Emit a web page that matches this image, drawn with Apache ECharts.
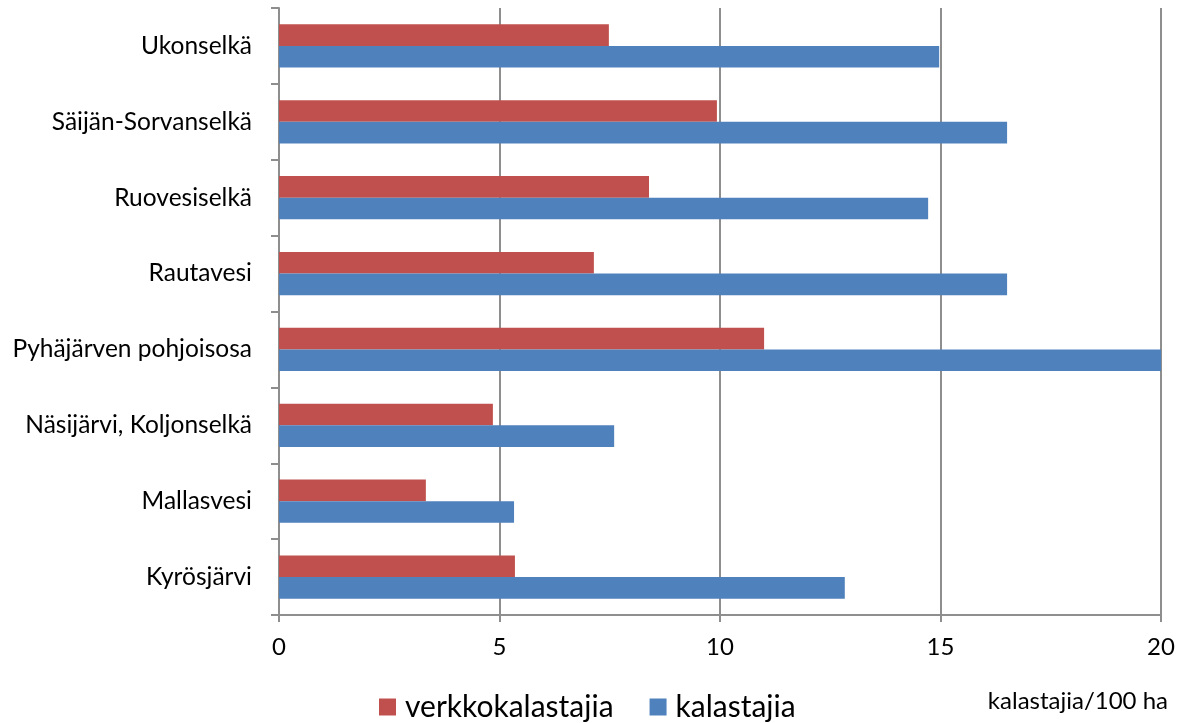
<!DOCTYPE html>
<html>
<head>
<meta charset="utf-8">
<title>Kalastajatiheys</title>
<script src="https://cdn.jsdelivr.net/npm/echarts@6/dist/echarts.min.js"></script>
<style>
  html, body { margin: 0; padding: 0; background: #fff; }
  #chart { width: 1181px; height: 723px; }
</style>
</head>
<body>
<div id="chart"></div>
<script>
// Lakes, listed from the bottom of the chart to the top
const lakes = [
  'Kyrösjärvi',
  'Mallasvesi',
  'Näsijärvi, Koljonselkä',
  'Pyhäjärven pohjoisosa',
  'Rautavesi',
  'Ruovesiselkä',
  'Säijän-Sorvanselkä',
  'Ukonselkä'
];

// Fishers per 100 ha
const netFishers = [5.35, 3.33, 4.85, 11.0, 7.14, 8.39, 9.93, 7.48];
const allFishers = [12.83, 5.33, 7.6, 20.0, 16.51, 14.72, 16.51, 14.97];

const seriesNames = ['verkkokalastajia', 'kalastajia'];
const unitLabel = 'kalastajia/100 ha';
const xTicks = { min: 0, max: 20, interval: 5 };

const FONT = 'Lato, "Open Sans", sans-serif';
const AXIS_GREY = '#8e8e8e';

const chart = echarts.init(document.getElementById('chart'), null, { renderer: 'canvas' });

chart.setOption({
  animation: false,
  color: ['#C0504D', '#4F81BD'],
  textStyle: { fontFamily: FONT, color: '#000' },
  title: {
    text: unitLabel,
    right: 13,
    top: 689,
    padding: 0,
    textStyle: { fontFamily: FONT, fontSize: 24, fontWeight: 'normal', color: '#000' }
  },
  legend: {
    data: seriesNames,
    top: 692,
    left: 379,
    padding: 0,
    itemWidth: 17,
    itemHeight: 17,
    itemGap: 36,
    icon: 'rect',
    textStyle: { fontFamily: FONT, fontSize: 30, color: '#000', padding: [0, 0, 0, 4] }
  },
  grid: {
    left: 279,
    right: 20,
    top: 8,
    bottom: 108,
    containLabel: false
  },
  xAxis: {
    type: 'value',
    min: xTicks.min,
    max: xTicks.max,
    interval: xTicks.interval,
    axisLine: { show: true, lineStyle: { color: AXIS_GREY, width: 2 } },
    axisTick: { show: true, length: 7, lineStyle: { color: AXIS_GREY, width: 2 } },
    axisLabel: { margin: 20, fontSize: 24, color: '#000', fontFamily: FONT },
    splitLine: { show: true, lineStyle: { color: AXIS_GREY, width: 2 } }
  },
  yAxis: {
    type: 'category',
    data: lakes,
    axisLine: { show: true, lineStyle: { color: AXIS_GREY, width: 2 } },
    axisTick: { show: true, length: 8, lineStyle: { color: AXIS_GREY, width: 2 } },
    axisLabel: { margin: 27, fontSize: 24.5, color: '#000', fontFamily: FONT },
    splitLine: { show: false }
  },
  series: [
    {
      name: seriesNames[0],
      type: 'bar',
      data: netFishers,
      barGap: '0%',
      barCategoryGap: '43%'
    },
    {
      name: seriesNames[1],
      type: 'bar',
      data: allFishers,
      barGap: '0%',
      barCategoryGap: '43%'
    }
  ]
});
</script>
</body>
</html>
